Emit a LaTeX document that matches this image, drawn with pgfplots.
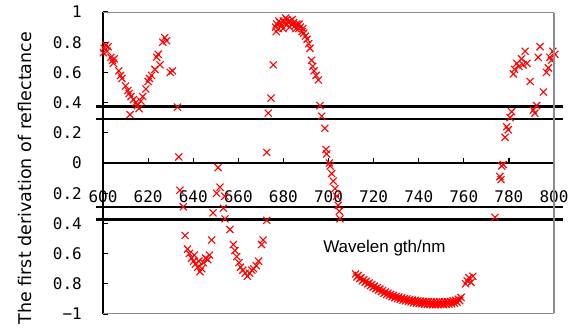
\documentclass[border=0pt]{standalone}
\usepackage{pgfplots}
\pgfplotsset{compat=1.18}
\usepackage{fontspec}
\setmainfont{Liberation Sans}
\newfontfamily\tickfont{DejaVu Sans Mono}
\newfontfamily\labfont{DejaVu Sans}
\definecolor{framegray}{RGB}{140,140,140}
\begin{document}
\begin{tikzpicture}
\begin{axis}[
  name=ax,
  scale only axis, width=451pt, height=302pt,
  xmin=600, xmax=800, ymin=-1, ymax=1,
  axis x line=middle, axis y line=left,
  axis line style={-, black, line width=1.2pt},
  xtick={600,620,640,660,680,700,720,740,760,780,800},
  xticklabels={600,620,640,660,680,700,720,740,760,780,800},
  ytick={-1,-0.8,-0.6,-0.4,-0.2,0,0.2,0.4,0.6,0.8,1},
  yticklabels={−1,0.8,0.6,0.4,0.2,0,0.2,0.4,0.6,0.8,1},
  tick align=inside,
  major tick length=5pt,
  tick style={black, line width=1.2pt},
  ticklabel style={font=\tickfont\fontsize{16}{18}\selectfont},
  yticklabel style={anchor=east, inner sep=0pt, xshift=-21pt},
  xticklabel style={anchor=base, inner sep=0pt, yshift=-39pt},
  hide obscured x ticks=false, hide obscured y ticks=false,
  unbounded coords=jump,
  clip=false,
]
% reference lines
\addplot[black, line width=3pt] coordinates {(597,0.376) (804,0.376)};
\addplot[black, line width=1.2pt] coordinates {(597,0.292) (804,0.292)};
\addplot[black, line width=1.2pt] coordinates {(597,-0.292) (804,-0.292)};
\addplot[black, line width=3pt] coordinates {(597,-0.372) (804,-0.372)};
% frame
\addplot[framegray, line width=1.8pt] coordinates {(600,0.997) (800,0.997)};
\addplot[framegray, line width=1.8pt] coordinates {(600,-0.997) (800,-0.997)};
% tick marks on the zero line and the left axis
\addplot[black, line width=1.2pt] coordinates {
(620,0) (620,0.033) (nan,nan) (640,0) (640,0.033) (nan,nan) (660,0) (660,0.033) (nan,nan)
(680,0) (680,0.033) (nan,nan) (700,0) (700,0.033) (nan,nan) (720,0) (720,0.033) (nan,nan)
(740,0) (740,0.033) (nan,nan) (760,0) (760,0.033) (nan,nan) (780,0) (780,0.033) (nan,nan)
(800,0) (800,0.033)};
\addplot[black, line width=1.2pt] coordinates {
(600,-0.8) (602.2,-0.8) (nan,nan) (600,-0.6) (602.2,-0.6) (nan,nan) (600,-0.4) (602.2,-0.4) (nan,nan)
(600,-0.2) (602.2,-0.2) (nan,nan) (600,0.2) (602.2,0.2) (nan,nan) (600,0.4) (602.2,0.4) (nan,nan)
(600,0.6) (602.2,0.6) (nan,nan) (600,0.8) (602.2,0.8)};
% data
\addplot[only marks, mark=x, mark size=5pt, red, mark options={line width=1.1pt}] coordinates {
(600.2,0.73) (600.5,0.76) (601.2,0.78) (601.8,0.74) (602.3,0.77) (603.5,0.70) (604.2,0.68) (605.0,0.69) (604.6,0.66)
(607.0,0.61) (607.8,0.58) (608.4,0.56) (610.0,0.51) (611.0,0.48) (611.6,0.46) (612.4,0.44) (613.5,0.42) (614.5,0.40)
(615.2,0.38) (616.0,0.36) (616.8,0.41) (612.0,0.32) (617.6,0.44) (619.0,0.49) (620.0,0.54) (620.6,0.56) (621.5,0.58)
(623.0,0.62) (623.8,0.70) (624.5,0.72) (625.3,0.65) (626.5,0.80) (627.4,0.83) (628.2,0.81) (629.8,0.60) (630.8,0.61)
(633.0,0.37) (633.6,0.04)
(634.1,-0.18) (635.6,-0.29) (636.4,-0.48) (637.5,-0.57) (638.3,-0.60) (639.3,-0.63) (640.2,-0.65) (641.0,-0.67)
(642.0,-0.69) (643.0,-0.72) (643.8,-0.70) (644.5,-0.66) (645.5,-0.63) (646.5,-0.64) (647.2,-0.61) (640.5,-0.61)
(642.5,-0.65) (648.2,-0.51) (648.8,-0.33) (650.4,-0.20) (651.0,-0.03) (651.9,-0.16) (653.4,-0.30) (654.0,-0.22)
(654.1,-0.37) (656.3,-0.44) (657.8,-0.54) (658.5,-0.58) (659.3,-0.62) (660.3,-0.66) (661.0,-0.69) (662.0,-0.71)
(663.0,-0.73) (664.0,-0.75) (665.0,-0.73) (666.0,-0.71) (666.8,-0.70) (668.0,-0.68) (669.0,-0.65) (670.3,-0.54)
(671.0,-0.51) (672.6,-0.38)
(672.6,0.07) (673.3,0.33) (674.5,0.43) (675.5,0.65)
(676.5,0.90) (677.0,0.92) (677.8,0.89) (678.5,0.93) (679.2,0.91) (680.0,0.94) (680.8,0.92) (681.5,0.95) (682.3,0.93)
(683.0,0.94) (683.8,0.92) (684.5,0.93) (685.3,0.91) (686.0,0.92) (686.8,0.89) (687.5,0.90) (688.3,0.87) (689.0,0.86)
(676.8,0.87) (678.0,0.94) (679.8,0.89) (681.0,0.96) (682.8,0.90) (684.0,0.95) (685.6,0.89) (687.0,0.92) (688.6,0.89)
(689.8,0.84) (690.5,0.82) (691.2,0.79) (691.8,0.76) (692.5,0.68) (693.0,0.64) (693.6,0.61) (694.5,0.58) (695.5,0.55)
(696.2,0.38) (697.0,0.31) (698.4,0.23) (698.9,0.09) (699.2,0.06) (700.4,0.0) (700.7,-0.02) (701.4,-0.07) (702.1,-0.12)
(702.9,-0.17) (703.6,-0.22) (704.3,-0.28) (704.8,-0.32) (705.1,-0.37)
(712.0,-0.735) (712.6,-0.755) (713.2,-0.745) (713.8,-0.765) (714.4,-0.760) (715.0,-0.780) (715.6,-0.772) (716.2,-0.790)
(716.8,-0.783) (717.4,-0.800) (718.0,-0.795) (718.6,-0.812) (719.2,-0.805) (719.8,-0.822) (720.4,-0.815) (721.0,-0.832)
(721.6,-0.826) (722.2,-0.842) (722.8,-0.835) (723.4,-0.852) (724.0,-0.845) (724.6,-0.862) (725.2,-0.855) (725.8,-0.870)
(726.4,-0.862) (727.0,-0.878) (727.6,-0.870) (728.2,-0.885) (728.8,-0.876) (729.4,-0.892) (730.0,-0.884) (730.6,-0.898)
(731.2,-0.888) (731.8,-0.903) (732.4,-0.893) (733.0,-0.908) (733.6,-0.898) (734.2,-0.912) (734.8,-0.900) (735.4,-0.917)
(736.0,-0.905) (736.6,-0.920) (737.2,-0.908) (737.8,-0.925) (738.4,-0.910) (739.0,-0.928) (739.6,-0.913) (740.2,-0.930)
(740.8,-0.915) (741.4,-0.932) (742.0,-0.917) (742.6,-0.935) (743.2,-0.918) (743.8,-0.936) (744.4,-0.919) (745.0,-0.937)
(745.6,-0.920) (746.2,-0.938) (746.8,-0.920) (747.4,-0.938) (748.0,-0.921) (748.6,-0.938) (749.2,-0.920) (749.8,-0.937)
(750.4,-0.920) (751.0,-0.937) (751.6,-0.919) (752.2,-0.936) (752.8,-0.918) (753.4,-0.934) (754.0,-0.916) (754.6,-0.932)
(755.2,-0.913) (755.8,-0.928) (756.4,-0.910) (757.0,-0.922) (757.6,-0.902) (758.2,-0.912) (758.8,-0.890)
(760.8,-0.80) (761.5,-0.78) (762.3,-0.76) (763.2,-0.79) (764.0,-0.75)
(773.8,-0.36) (776.0,-0.09) (776.5,-0.11) (776.8,-0.02) (777.5,-0.01) (778.3,0.17) (779.0,0.24) (779.7,0.22)
(780.5,0.30) (781.2,0.34) (782.0,0.59) (782.5,0.62) (783.5,0.66) (784.5,0.64) (785.6,0.69) (786.3,0.65) (787.2,0.74)
(788.0,0.66) (789.4,0.54) (790.8,0.35) (791.5,0.33) (792.3,0.38) (793.0,0.70) (793.8,0.77) (795.3,0.47) (796.7,0.60)
(797.5,0.63) (798.2,0.70) (798.9,0.68) (799.5,0.74) (800.4,0.72)
};
\node[anchor=base west, font=\fontsize{17}{20}\selectfont, inner sep=0pt] at (axis cs:697.6,-0.59) {Wavelen gth/nm};
\node[rotate=90, anchor=center, font=\labfont\fontsize{17.5}{20}\selectfont, inner sep=0pt] at (axis cs:565.4,-0.10) {The first derivation of reflectance};
\end{axis}
\draw[framegray, line width=1.8pt] ([yshift=-0.9pt]ax.north east) -- ([yshift=0.9pt]ax.south east);
\pgfresetboundingbox
\path[use as bounding box] (-103pt,-15pt) rectangle (466pt,314pt);
\end{tikzpicture}
\end{document}
